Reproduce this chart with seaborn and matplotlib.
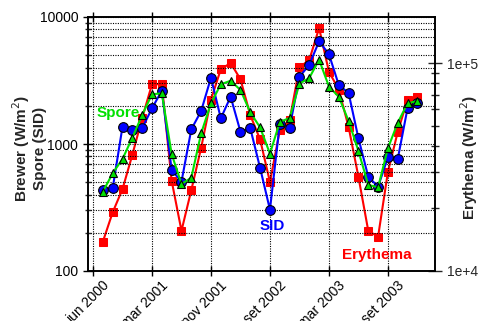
import numpy as np
import pandas as pd
import matplotlib
matplotlib.use("Agg")
import matplotlib.pyplot as plt
import matplotlib.transforms as mtransforms
import seaborn as sns
from matplotlib.ticker import FixedLocator, NullFormatter

# ---------------- data ----------------
sample_index = list(range(1, 34))
sid_values = [434, 448, 1368, 1289, 1330, 1911, 2629, 624, 505, 1305, 1818, 3327,
              1593, 2357, 1250, 1330, 647, 304, 1445, 1344, 3372, 4210, 6436, 5095,
              2915, 2521, 1109, 553, 461, 786, 762, 1920, 2122]
spore_values = [421, 588, 762, 1121, 1692, 2462, 2508, 834, 484, 543, 1214, 2091,
                2951, 3150, 2663, 1777, 1349, 839, 1491, 1602, 2985, 3311, 4611, 2836,
                2354, 1518, 881, 476, 456, 925, 1471, 2091, 2181]
erythema_values = [13830, 19160, 24790, 36240, 54400, 79270, 79270, 27180, 15620,
                   24510, 39150, 66880, 93560, 100300, 83750, 56230, 42960, 26790,
                   47480, 53200, 95650, 103700, 147800, 91000, 74750, 49400, 28400,
                   15620, 14620, 30010, 46740, 66880, 68860]
tick_positions = [0, 6, 12, 18, 24, 30]
tick_labels = ["jun 2000", "mar 2001", "nov 2001", "set 2002", "mar 2003", "set 2003"]

df = pd.DataFrame({"i": sample_index, "sid": sid_values,
                   "spore": spore_values, "ery": erythema_values})

sns.set_theme(style="white")
plt.rcParams["font.family"] = ["Liberation Sans", "DejaVu Sans"]

fig = plt.figure(figsize=(4.79, 3.21), dpi=100)
ax = fig.add_axes([88 / 479, 1 - 271 / 321, (435 - 88) / 479, (271 - 17) / 321])
ax2 = ax.twinx()
# erythema drawn underneath
ax2.set_zorder(ax.get_zorder() - 1)
ax.patch.set_visible(False)
ax2.patch.set_visible(True)
ax2.patch.set_facecolor("white")

sns.lineplot(data=df, x="i", y="ery", ax=ax2, color="#ff0000", marker="s",
             markersize=5.5, markeredgecolor="#ff0000", linewidth=1.5)
sns.lineplot(data=df, x="i", y="sid", ax=ax, color="#0000ff", marker="o",
             markersize=7, markeredgecolor="black", markeredgewidth=0.8, linewidth=1.5)
sns.lineplot(data=df, x="i", y="spore", ax=ax, color="#00e000", marker="^",
             markersize=6, markeredgecolor="black", markeredgewidth=0.8, linewidth=1.5)

for a in (ax, ax2):
    a.set_yscale("log")
    a.set_xlim(-0.51, 34.79)
ax.set_ylim(100, 10000)
ax2.set_ylim(1e4, 1.67e5)

# left axis ticks
ax.yaxis.set_major_locator(FixedLocator([100, 1000, 10000]))
ax.set_yticklabels(["100", "1000", "10000"])
minors_left = [m * d for d in (100, 1000) for m in range(2, 10)]
ax.yaxis.set_minor_locator(FixedLocator(minors_left))
ax.yaxis.set_minor_formatter(NullFormatter())

# right axis ticks
ax2.yaxis.set_major_locator(FixedLocator([1e4, 1e5]))
ax2.set_yticklabels(["1e+4", "1e+5"])
ax2.yaxis.set_minor_locator(FixedLocator([m * 1e4 for m in range(2, 10)]))
ax2.yaxis.set_minor_formatter(NullFormatter())

ax.set_xticks(tick_positions)
ax.set_xticklabels(tick_labels, rotation=45, ha="right", rotation_mode="anchor")

ax.tick_params(axis="both", which="major", direction="inout", length=7, width=1,
               labelsize=10, colors="black", top=True, left=True, bottom=True)
ax.tick_params(axis="y", which="minor", direction="inout", length=5, width=1, left=True)
ax.tick_params(axis="x", which="major", pad=2)
ax2.tick_params(axis="y", which="major", direction="inout", length=10, width=1,
                labelsize=10, right=True)
ax2.tick_params(axis="y", which="minor", direction="inout", length=6, width=1, right=True)
shift = mtransforms.ScaledTranslation(9 / 100, 0, fig.dpi_scale_trans)
for lab in ax.get_xticklabels():
    lab.set_fontsize(10)
    lab.set_transform(lab.get_transform() + shift)

ax.grid(True, which="both", axis="y", color="black", linestyle=(0, (1, 1.2)), linewidth=0.8)
ax.grid(True, which="major", axis="x", color="black", linestyle=(0, (1, 1.2)), linewidth=0.8)
ax2.grid(False)

for a in (ax, ax2):
    for s in a.spines.values():
        s.set_color("black")
        s.set_linewidth(1.2)
        s.set_visible(True)

ax.set_xlabel("")
ax.set_ylabel("Brewer (W/m$^2$)\nSpore (SID)", fontsize=11, fontweight="bold",
              linespacing=1.1)
ax.yaxis.set_label_coords(-0.118, 0.484)
ax2.set_ylabel("Erythema (W/m$^2$)", fontsize=11, fontweight="bold")
ax2.yaxis.set_label_coords(1.066, 0.445)

ax.text(2.6, 1750, "Spore", color="#00e000", fontsize=11, fontweight="bold",
        ha="center", va="center")
ax.text(18.2, 226, "SID", color="#0000ff", fontsize=11, fontweight="bold",
        ha="center", va="center")
ax.text(28.9, 134, "Erythema", color="#ff0000", fontsize=11, fontweight="bold",
        ha="center", va="center")

fig.savefig("out.png", dpi=100)
